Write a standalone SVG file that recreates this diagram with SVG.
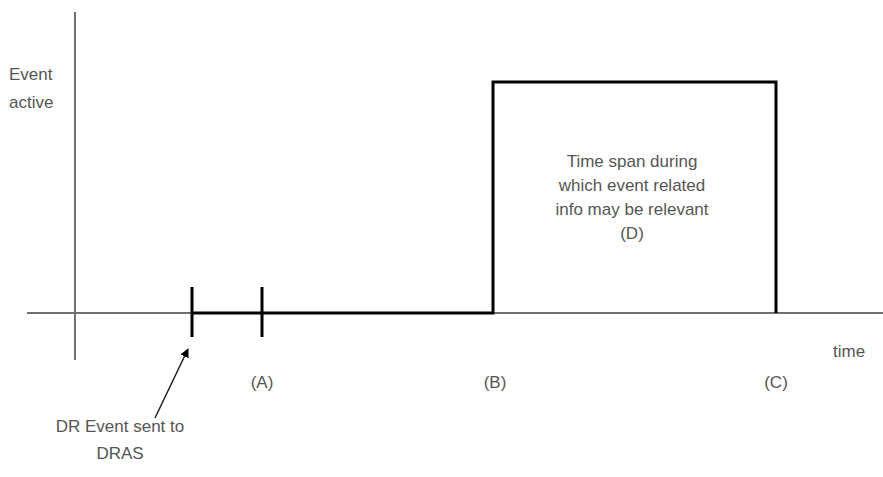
<svg xmlns="http://www.w3.org/2000/svg" width="883" height="477" viewBox="0 0 883 477">
<defs>
<style>
.t{font-family:"Liberation Sans",Arial,sans-serif;font-size:17px;fill:#555}
.axis{stroke:#707070;stroke-width:2;fill:none}
.sig{stroke:#000;stroke-width:3;fill:none}
</style>
<marker id="ah" viewBox="0 0 10 10" refX="9" refY="5" markerWidth="9" markerHeight="9" markerUnits="userSpaceOnUse" orient="auto">
<path d="M0,0 L10,5 L0,10 z" fill="#000"/>
</marker>
</defs>
<rect width="883" height="477" fill="#fff"/>
<g id="axes">
<line class="axis" x1="75" y1="12" x2="75" y2="360"/>
<line class="axis" x1="27" y1="313" x2="883" y2="313"/>
</g>
<g id="signal">
<polyline class="sig" points="192,313 493,313 493,82 776,82 776,313"/>
<line class="sig" x1="192" y1="287" x2="192" y2="337"/>
<line class="sig" x1="262" y1="287" x2="262" y2="337"/>
</g>
<g id="connectors">
<line x1="155" y1="418" x2="188" y2="349" stroke="#222" stroke-width="1.5" marker-end="url(#ah)"/>
</g>
<g id="labels">
<text class="t" x="9" y="80">Event</text>
<text class="t" x="9" y="108">active</text>
<text class="t" x="833" y="357">time</text>
<text class="t" x="262" y="388" text-anchor="middle">(A)</text>
<text class="t" x="495" y="388" text-anchor="middle">(B)</text>
<text class="t" x="776" y="388" text-anchor="middle">(C)</text>
<text class="t" x="120" y="432" text-anchor="middle">DR Event sent to</text>
<text class="t" x="120" y="459" text-anchor="middle">DRAS</text>
</g>
<g id="span-label">
<text class="t" x="632" y="167" text-anchor="middle">Time span during</text>
<text class="t" x="632" y="191" text-anchor="middle">which event related</text>
<text class="t" x="632" y="215" text-anchor="middle">info may be relevant</text>
<text class="t" x="632" y="239" text-anchor="middle">(D)</text>
</g>
</svg>
